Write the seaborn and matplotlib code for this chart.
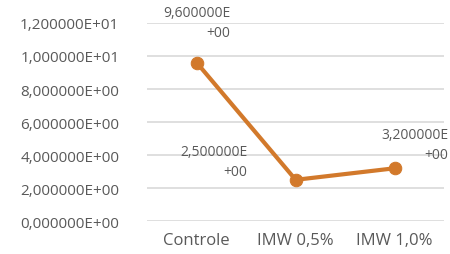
import matplotlib
matplotlib.use("Agg")
import matplotlib.pyplot as plt
import seaborn as sns
import pandas as pd

# data
categories = ["Controle", "IMW 0,5%", "IMW 1,0%"]
values = [9.6, 2.5, 3.2]
point_labels = ["9,600000E\n+00", "2,500000E\n+00", "3,200000E\n+00"]
yticks = [0, 2, 4, 6, 8, 10, 12]

df = pd.DataFrame({"cat": categories, "val": values, "x": range(len(categories))})

sns.set_style("white")
plt.rcParams["font.family"] = ["Open Sans", "DejaVu Sans"]

text_col = "#595959"
line_col = "#D2792B"

fig = plt.figure(figsize=(4.5, 2.55), dpi=100)
ax = fig.add_axes([0.327, 0.129, 0.66, 0.777])

sns.lineplot(data=df, x="x", y="val", ax=ax, color=line_col, linewidth=3,
             marker="o", markersize=9, markeredgecolor=line_col)

ax.set_ylim(0, 12)
ax.set_xlim(-0.5, 2.5)
ax.set_yticks(yticks)
ax.set_yticklabels([f"{v:.6E}".replace(".", ",") for v in yticks])
ax.set_xticks(range(len(categories)))
ax.set_xticklabels(categories)
ax.tick_params(axis="y", colors=text_col, labelsize=11, length=0, pad=20)
ax.tick_params(axis="x", colors=text_col, labelsize=12, length=0, pad=8)
ax.grid(axis="y", color="#D9D9D9", linewidth=1.2)
ax.set_axisbelow(True)
for s in ax.spines.values():
    s.set_visible(False)
ax.set_xlabel("")
ax.set_ylabel("")

# data labels (centre of each two-line block)
label_pos = [(0.0, 12.0), (0.175, 3.6), (2.2, 4.65)]
for lab, (lx, ly) in zip(point_labels, label_pos):
    ax.text(lx, ly, lab, ha="center", va="center", fontsize=10,
            color=text_col, linespacing=1.45, multialignment="right")

fig.savefig("out.png", dpi=100)
